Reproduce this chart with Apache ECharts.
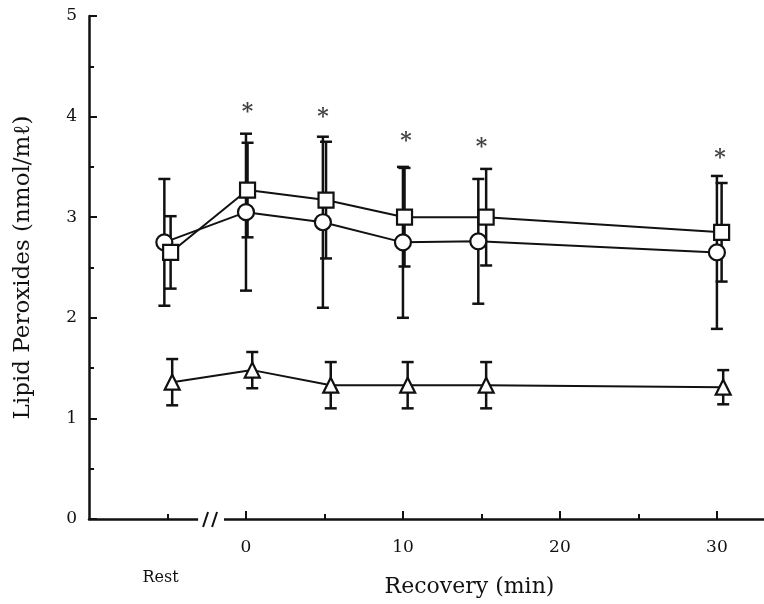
<!DOCTYPE html>
<html>
<head>
<meta charset="utf-8">
<script src="https://cdn.jsdelivr.net/npm/echarts@6/dist/echarts.min.js"></script>
<style>
html, body { margin: 0; padding: 0; background: #fff; }
#chart { width: 764px; height: 604px; }
</style>
</head>
<body>
<div id="chart"></div>
<script>
// values (Rest sits at x = -5 on the time scale)
var circleX = [-5.2, 0, 4.9, 10, 14.8, 30];
var circleY = [2.75, 3.05, 2.95, 2.75, 2.76, 2.65];
var circleErr = [0.63, 0.78, 0.85, 0.75, 0.62, 0.76];

var squareX = [-4.8, 0.1, 5.1, 10.1, 15.3, 30.3];
var squareY = [2.65, 3.27, 3.17, 3.00, 3.00, 2.85];
var squareErr = [0.36, 0.47, 0.58, 0.49, 0.48, 0.49];

var triX = [-4.7, 0.4, 5.4, 10.3, 15.3, 30.4];
var triY = [1.36, 1.48, 1.33, 1.33, 1.33, 1.31];
var triErr = [0.23, 0.18, 0.23, 0.23, 0.23, 0.17];

var starX = [0.1, 4.9, 10.2, 15, 30.2];
var starY = [4.09, 4.04, 3.80, 3.74, 3.64];

var xMajorTicks = [0, 10, 20, 30];
var xMinorTicks = [-5, 5, 15, 25];
var xLabels = [-5, 0, 10, 20, 30];
var axisBreak = [-3.05, -1.4];

var ink = '#111';
var serif = 'DejaVu Serif';

var chart = echarts.init(document.getElementById('chart'));

function pairs(xs, ys) {
	return xs.map(function(x, i) { return [x, ys[i]]; });
}

function errorBars(xs, ys, errs) {
	return {
		type : 'custom',
		xAxisIndex : 0,
		z : 1,
		silent : true,
		data : xs.map(function(x, i) { return [x, ys[i] - errs[i], ys[i] + errs[i]]; }),
		renderItem : function(params, api) {
			var lo = api.coord([api.value(0), api.value(1)]);
			var hi = api.coord([api.value(0), api.value(2)]);
			var w = 6;
			var st = { stroke : ink, lineWidth : 2.5 };
			return {
				type : 'group',
				children : [
					{ type : 'line', shape : { x1 : hi[0], y1 : hi[1], x2 : lo[0], y2 : lo[1] }, style : st },
					{ type : 'line', shape : { x1 : hi[0] - w, y1 : hi[1], x2 : hi[0] + w, y2 : hi[1] }, style : st },
					{ type : 'line', shape : { x1 : lo[0] - w, y1 : lo[1], x2 : lo[0] + w, y2 : lo[1] }, style : st }
				]
			};
		}
	};
}

function lineSeries(xs, ys, symbol, size) {
	return {
		type : 'line',
		xAxisIndex : 0,
		z : 3,
		data : pairs(xs, ys),
		symbol : symbol,
		symbolSize : size,
		showAllSymbol : true,
		lineStyle : { color : ink, width : 2 },
		itemStyle : { color : '#fff', borderColor : ink, borderWidth : 2.2 }
	};
}

var option = {
	animation : false,
	backgroundColor : '#fff',
	grid : { left : 89, right : 0, top : 16, bottom : 85, outerBoundsMode : 'none' },
	xAxis : [ {
		type : 'value',
		min : -10,
		max : 33,
		axisLine : { onZero : false, lineStyle : { color : ink, width : 2.5 } },
		axisTick : { show : true, inside : true, length : 8, customValues : xMajorTicks, lineStyle : { color : ink, width : 2 } },
		splitLine : { show : false },
		axisLabel : {
			customValues : xLabels,
			margin : 20,
			color : ink,
			fontFamily : serif,
			fontSize : 17,
			formatter : function(v) { return v === -5 ? '{r|Rest}' : String(v); },
			rich : { r : { fontFamily : serif, fontSize : 16, color : ink, padding : [ 31, 14, 0, 0 ] } }
		},
		name : 'Recovery (min)',
		nameLocation : 'middle',
		nameGap : 57,
		nameMoveOverlap : false,
		nameTextStyle : { color : ink, fontFamily : serif, fontSize : 22, padding : [ 0, 0, 0, 86 ] }
	}, {
		type : 'value',
		min : -10,
		max : 33,
		position : 'bottom',
		axisLine : { show : false, onZero : false },
		axisTick : { show : true, inside : true, length : 5, customValues : xMinorTicks, lineStyle : { color : ink, width : 2 } },
		axisLabel : { show : false },
		splitLine : { show : false }
	} ],
	yAxis : {
		type : 'value',
		min : 0,
		max : 5,
		interval : 1,
		axisLine : { show : true, onZero : false, lineStyle : { color : ink, width : 2.5 } },
		axisTick : { show : true, inside : true, length : 8, lineStyle : { color : ink, width : 2 } },
		minorTick : { show : true, splitNumber : 2, length : 5, lineStyle : { color : ink, width : 2 } },
		splitLine : { show : false },
		axisLabel : { color : ink, fontFamily : serif, fontSize : 17, margin : 12 },
		name : 'Lipid Peroxides (nmol/m\u2113)',
		nameLocation : 'middle',
		nameGap : 54,
		nameMoveOverlap : false,
		nameTextStyle : { color : ink, fontFamily : serif, fontSize : 23 }
	},
	series : [
		errorBars(circleX, circleY, circleErr),
		errorBars(squareX, squareY, squareErr),
		errorBars(triX, triY, triErr),
		lineSeries(circleX, circleY, 'circle', 16),
		lineSeries(squareX, squareY, 'rect', 15),
		lineSeries(triX, triY, 'triangle', 15),
		{
			type : 'scatter',
			xAxisIndex : 0,
			symbolSize : 1,
			itemStyle : { color : 'rgba(0,0,0,0)' },
			data : pairs(starX, starY),
			label : { show : true, position : 'inside', offset : [ 0, 5 ], formatter : '*', color : ink, fontFamily : serif, fontWeight : 'bold', fontSize : 22 }
		},
		{
			// axis break "//" on the x axis
			type : 'custom',
			xAxisIndex : 0,
			z : 5,
			silent : true,
			data : [ [ axisBreak[0], axisBreak[1] ] ],
			renderItem : function(params, api) {
				var a = api.coord([ api.value(0), 0 ]);
				var b = api.coord([ api.value(1), 0 ]);
				var mid = (a[0] + b[0]) / 2;
				var st = { stroke : ink, lineWidth : 2 };
				return {
					type : 'group',
					children : [
						{ type : 'rect', shape : { x : a[0], y : a[1] - 4, width : b[0] - a[0], height : 8 }, style : { fill : '#fff' } },
						{ type : 'line', shape : { x1 : mid - 8, y1 : a[1] + 8, x2 : mid - 3, y2 : a[1] - 7 }, style : st },
						{ type : 'line', shape : { x1 : mid + 1, y1 : a[1] + 8, x2 : mid + 6, y2 : a[1] - 7 }, style : st }
					]
				};
			}
		}
	]
};

chart.setOption(option, true);
</script>
</body>
</html>
